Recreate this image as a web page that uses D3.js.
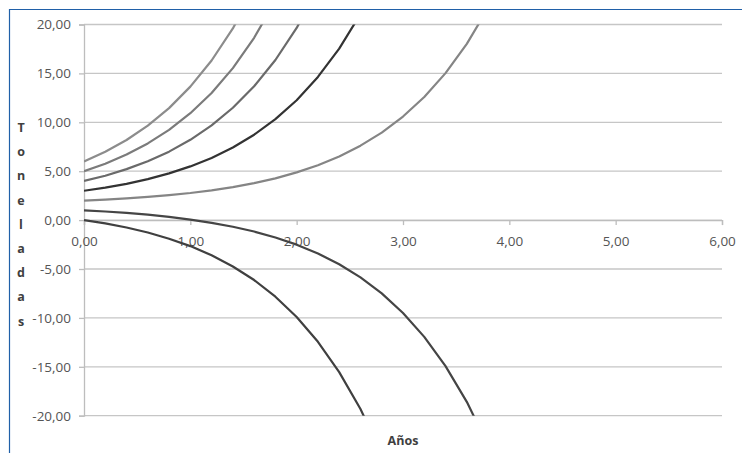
<!DOCTYPE html>
<html>
<head>
<meta charset="utf-8">
<script src="https://cdn.jsdelivr.net/npm/d3@7"></script>
<style>
  body { margin: 0; background: #fff; }
  svg { display: block; }
</style>
</head>
<body>
<div id="chart"></div>
<script>
// x values (years)
const years = [0, 0.2, 0.4, 0.6, 0.8, 1.0, 1.2, 1.4, 1.6, 1.8, 2.0, 2.2, 2.4, 2.6, 2.8, 3.0, 3.2, 3.4, 3.6, 3.8];

// series values (tons), one per starting value
const serie6 = [6.00, 6.99, 8.19, 9.66, 11.45, 13.65, 16.32, 19.60, 23.59];
const serie5 = [5.00, 5.76, 6.70, 7.84, 9.23, 10.93, 13.00, 15.54, 18.64, 22.42];
const serie4 = [4.00, 4.54, 5.21, 6.01, 7.00, 8.21, 9.68, 11.49, 13.69, 16.37, 19.65, 23.66];
const serie3 = [3.00, 3.32, 3.71, 4.19, 4.78, 5.49, 6.36, 7.43, 8.73, 10.32, 12.26, 14.64, 17.53, 21.07];
const serie2 = [2.00, 2.10, 2.22, 2.37, 2.55, 2.77, 3.04, 3.37, 3.78, 4.27, 4.88, 5.61, 6.51, 7.61, 8.95, 10.59, 12.59, 15.03, 18.02, 21.67];
const serie1 = [1.00, 0.88, 0.73, 0.55, 0.33, 0.05, -0.28, -0.68, -1.17, -1.78, -2.51, -3.41, -4.51, -5.86, -7.49, -9.50, -11.94, -14.93, -18.58, -23.04];
const serie0 = [0.00, -0.34, -0.76, -1.27, -1.90, -2.66, -3.60, -4.74, -6.13, -7.83, -9.90, -12.44, -15.54, -19.32, -23.94];

const xTicks = [0, 1, 2, 3, 4, 5, 6];
const yTicks = [-20, -15, -10, -5, 0, 5, 10, 15, 20];

const series = [
    { values: serie6, color: "#8c8c8c" },
    { values: serie5, color: "#7b7b7b" },
    { values: serie4, color: "#6a6a6a" },
    { values: serie3, color: "#333333" },
    { values: serie2, color: "#858585" },
    { values: serie1, color: "#454545" },
    { values: serie0, color: "#404040" }
];

const width = 742, height = 453;
const margin = { top: 24.5, right: 20, bottom: 37.3, left: 84 };
const innerWidth = 722 - margin.left;
const innerHeight = 415.7 - margin.top;

const svg = d3.select("#chart")
    .append("svg")
    .attr("width", width)
    .attr("height", height);

// outer blue frame (only top and left edges are visible)
svg.append("path")
    .attr("d", `M9.5,${height}V9.5H${width}`)
    .attr("fill", "none")
    .attr("stroke", "#2060a8")
    .attr("stroke-width", 1.2);

const g = svg.append("g")
    .attr("transform", `translate(${margin.left},${margin.top})`);

const xScale = d3.scaleLinear().domain([0, 6]).range([0, innerWidth]);
const yScale = d3.scaleLinear().domain([-20, 20]).range([innerHeight, 0]);

// Spanish style numbers: comma decimal, plain hyphen minus
const fmt = d => d.toFixed(2).replace(".", ",");

// horizontal gridlines
g.selectAll(".grid")
    .data(yTicks)
    .enter()
    .append("line")
    .attr("class", "grid")
    .attr("x1", 0)
    .attr("x2", innerWidth)
    .attr("y1", d => yScale(d))
    .attr("y2", d => yScale(d))
    .attr("stroke", "#c6c6c6")
    .attr("stroke-width", 1.3);

// y axis
const yAxis = g.append("g")
    .call(d3.axisLeft(yScale).tickValues(yTicks).tickSize(5).tickPadding(8).tickFormat(fmt));
yAxis.select(".domain").attr("stroke", "#bdbdbd").attr("stroke-width", 1.3);
yAxis.selectAll(".tick line").attr("stroke", "#bdbdbd").attr("stroke-width", 1.3);
yAxis.selectAll("text")
    .attr("fill", "#555555")
    .style("font-family", "'Open Sans', sans-serif")
    .style("font-size", "13.5px");

// x axis at y = 0
const xAxis = g.append("g")
    .attr("transform", `translate(0,${yScale(0)})`)
    .call(d3.axisBottom(xScale).tickValues(xTicks).tickSize(5).tickPadding(11).tickSizeOuter(5).tickFormat(fmt));
xAxis.select(".domain").attr("stroke", "#bdbdbd").attr("stroke-width", 1.3);
xAxis.selectAll(".tick line").attr("stroke", "#bdbdbd").attr("stroke-width", 1.3);
xAxis.selectAll("text")
    .attr("fill", "#555555")
    .style("font-family", "'Open Sans', sans-serif")
    .style("font-size", "13.5px");

// clip the curves to the plot area
svg.append("clipPath")
    .attr("id", "plot-clip")
    .append("rect")
    .attr("x", 0)
    .attr("y", 0)
    .attr("width", innerWidth)
    .attr("height", innerHeight);

const line = d3.line()
    .x((d, i) => xScale(years[i]))
    .y(d => yScale(d));

g.append("g")
    .attr("clip-path", "url(#plot-clip)")
    .selectAll(".curve")
    .data(series)
    .enter()
    .append("path")
    .attr("class", "curve")
    .attr("d", d => line(d.values))
    .attr("fill", "none")
    .attr("stroke", d => d.color)
    .attr("stroke-width", 2.2)
    .attr("stroke-linejoin", "round");

// axis titles
const yTitle = "Toneladas".split("");
svg.selectAll(".ytitle")
    .data(yTitle)
    .enter()
    .append("text")
    .attr("class", "ytitle")
    .attr("x", 21)
    .attr("y", (d, i) => 132 + i * 24.2)
    .attr("text-anchor", "middle")
    .attr("fill", "#404040")
    .style("font-family", "'Open Sans', sans-serif")
    .style("font-size", "12.5px")
    .style("font-weight", "bold")
    .text(d => d);

svg.append("text")
    .attr("x", margin.left + innerWidth / 2)
    .attr("y", 445)
    .attr("text-anchor", "middle")
    .attr("fill", "#404040")
    .style("font-family", "'Open Sans', sans-serif")
    .style("font-size", "12.5px")
    .style("font-weight", "bold")
    .text("Años");
</script>
</body>
</html>
